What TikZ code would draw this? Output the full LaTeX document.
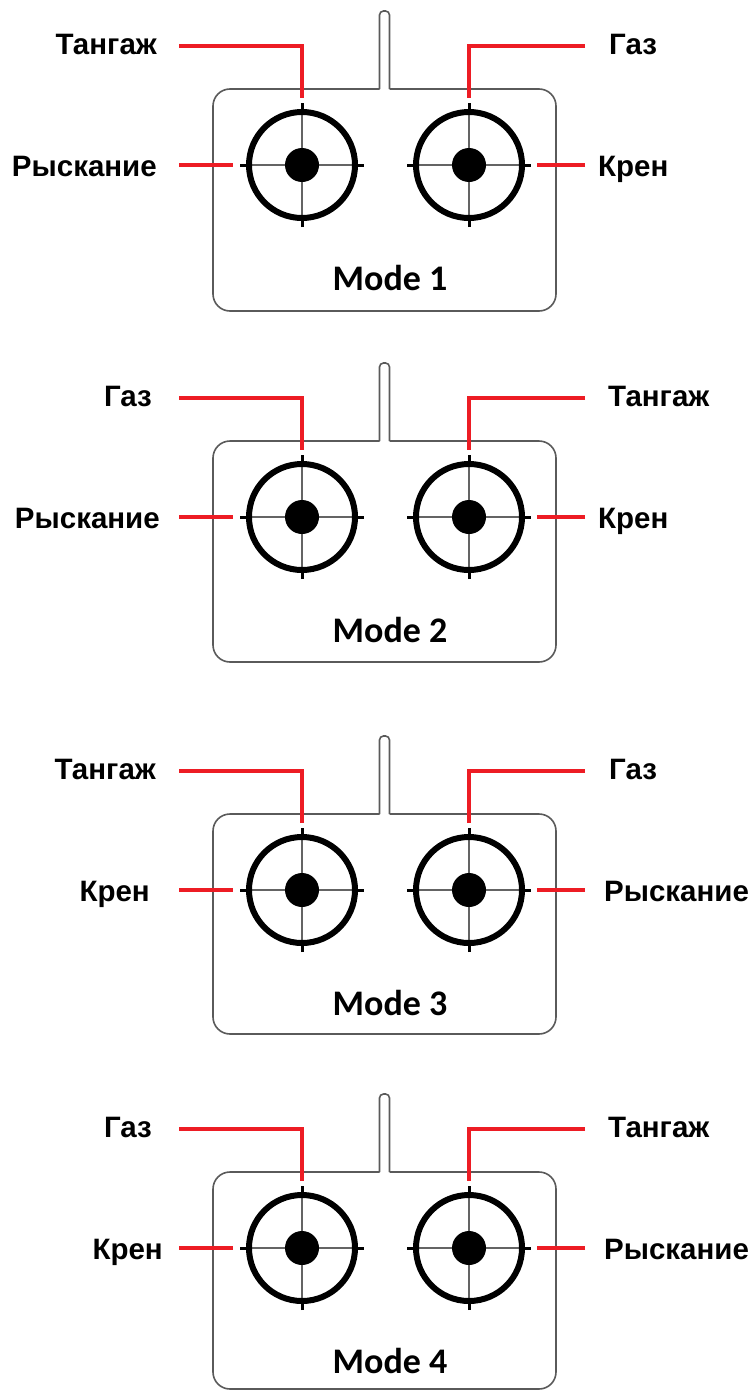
\documentclass[tikz,border=0pt]{standalone}
\usepackage{fontspec}
\setmainfont{Liberation Sans}
\newfontfamily\modefont{Carlito}
\definecolor{linered}{RGB}{237,28,36}
\definecolor{bodygray}{RGB}{90,90,90}
\definecolor{crossgray}{RGB}{100,100,100}
\tikzset{
  bodyline/.style={draw=bodygray,line width=1.6pt},
  redline/.style={draw=linered,line width=3.4pt},
  crossline/.style={draw=crossgray,line width=1.6pt},
  ringline/.style={draw=black,line width=6pt},
  tickline/.style={draw=black,line width=3pt},
  lbl/.style={font=\bfseries\fontsize{29.5}{31}\selectfont,inner sep=0pt},
  modelbl/.style={font=\modefont\bfseries\fontsize{36}{38}\selectfont,inner sep=0pt},
  stick/.pic={
    \draw[crossline] (-50pt,0pt)--(50pt,0pt) (0pt,-50pt)--(0pt,50pt);
    \fill[black] (0pt,0pt) circle (17pt);
    \draw[ringline] (0pt,0pt) circle (53pt);
    \draw[tickline] (-62pt,0pt)--(-52pt,0pt) (52pt,0pt)--(62pt,0pt) (0pt,-62pt)--(0pt,-52pt) (0pt,52pt)--(0pt,62pt);
  }
}
\begin{document}
\begin{tikzpicture}[x=1pt,y=-1pt]
\useasboundingbox (0,0) rectangle (753,1392);
\foreach \i/\cy/\bot/\ta/\tax/\sa/\sax/\tb/\tbx/\sb/\sbx in {
  1/165/311/Тангаж/157/Рыскание/157/Газ/609/Крен/598,
  2/517/662/Газ/152/Рыскание/160/Тангаж/608/Крен/598,
  3/890/1034/Тангаж/156/Крен/150/Газ/609/Рыскание/604,
  4/1248/1389/Газ/152/Крен/163/Тангаж/608/Рыскание/604}{
  % body
  \draw[bodyline,rounded corners=17pt] (379.5,\cy-76) -- (213,\cy-76) -- (213,\bot) -- (556,\bot) -- (556,\cy-76) -- (389.5,\cy-76);
  \draw[bodyline,rounded corners=4pt] (379.5,\cy-76) -- (379.5,\cy-154) -- (389.5,\cy-154) -- (389.5,\cy-76);
  % sticks
  \coordinate (L\i) at (302,\cy);
  \coordinate (R\i) at (469,\cy);
  \pic at (L\i) {stick};
  \pic at (R\i) {stick};
  % connector end points
  \coordinate (LTa\i) at (179,\cy-119);
  \coordinate (LTb\i) at (302,\cy-67);
  \coordinate (LSa\i) at (179,\cy);
  \coordinate (LSb\i) at (233,\cy);
  \coordinate (RTa\i) at (585,\cy-119);
  \coordinate (RTb\i) at (469,\cy-67);
  \coordinate (RSa\i) at (585,\cy);
  \coordinate (RSb\i) at (537,\cy);
  \draw[redline] (LTa\i) -| (LTb\i);
  \draw[redline] (RTa\i) -| (RTb\i);
  \draw[redline] (LSa\i) -- (LSb\i);
  \draw[redline] (RSa\i) -- (RSb\i);
  % labels
  \node[lbl,anchor=base east] (lt\i) at (\tax,\cy-111) {\ta};
  \node[lbl,anchor=base east] (ls\i) at (\sax,\cy+11) {\sa};
  \node[lbl,anchor=base west] (rt\i) at (\tbx,\cy-111) {\tb};
  \node[lbl,anchor=base west] (rs\i) at (\sbx,\cy+11) {\sb};
  \node[modelbl,anchor=base] (m\i) at (390,\cy+125) {Mode \i};
}
\end{tikzpicture}
\end{document}
